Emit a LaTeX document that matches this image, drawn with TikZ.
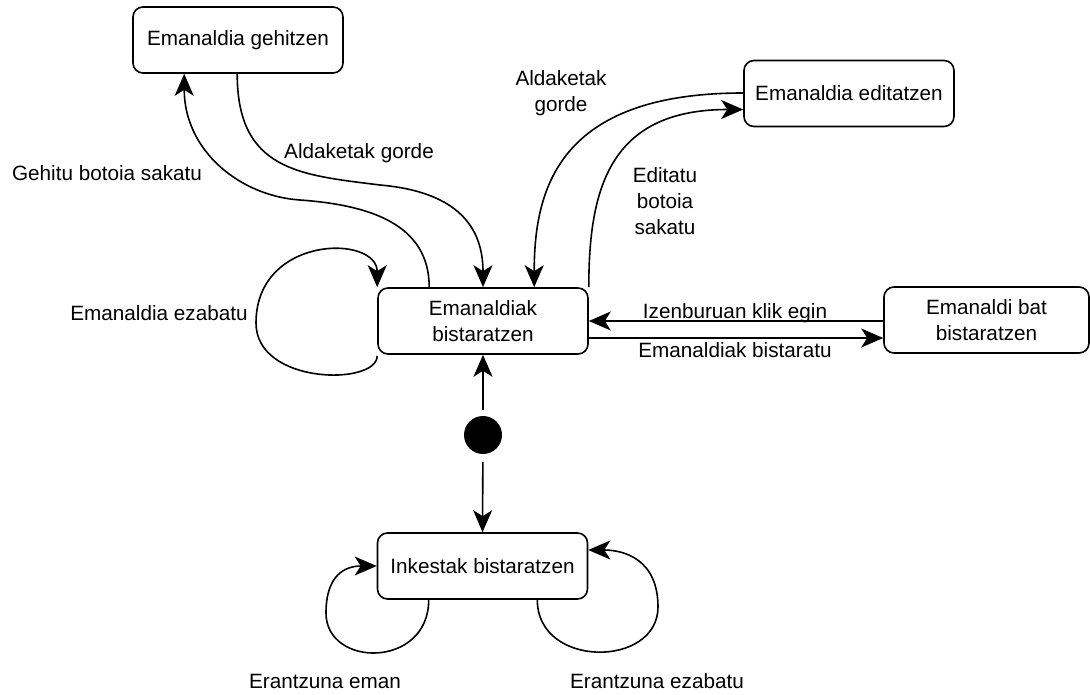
\documentclass[tikz,border=0pt]{standalone}
\usepackage{fontspec}
\setmainfont{Liberation Sans}
\usetikzlibrary{arrows.meta,calc}
\begin{document}
\begin{tikzpicture}[x=1pt,y=-1pt,
  every node/.style={font=\fontsize{20.7}{26}\selectfont},
  state/.style={draw,line width=1.6pt,rounded corners=10pt,minimum width=210pt,minimum height=66pt,align=center,inner sep=2pt},
  lbl/.style={align=center,inner sep=0pt},
  tip/.tip={Stealth[length=22pt,width=19pt,inset=6pt]},
  arr/.style={line width=1.6pt,-tip},
  ln/.style={line width=1.6pt}]
\useasboundingbox (0,0) rectangle (1090,695);
\node[state] (gehitzen) at (238,40) {Emanaldia gehitzen};
\node[state] (editatzen) at (849,93.5) {Emanaldia editatzen};
\node[state] (bistak) at (483,321) {Emanaldiak\\bistaratzen};
\node[state,minimum width=205pt] (bat) at (986.5,320) {Emanaldi bat\\bistaratzen};
\node[state] (inkestak) at (482.5,566) {Inkestak bistaratzen};
\node[circle,fill=black,minimum size=38pt,inner sep=0pt] (start) at (483,435) {};

% Gehitu botoia sakatu
\draw[arr] ($(bistak.north west)+(52,0)$) .. controls +(0,-63) and (370,205) .. (300,200) .. controls (240,196) and +(0,77) .. ($(gehitzen.south west)+(52,0)$);
% Aldaketak gorde (from gehitzen)
\draw[arr] ($(gehitzen.south west)+(105,0)$) .. controls +(0,97) and (300,175) .. (380,185) .. controls (460,192) and +(0,-58) .. (bistak.north);
% Aldaketak gorde (from editatzen)
\draw[arr] ($(editatzen.west)+(0,-0.5)$) .. controls +(-185,0) and +(0,-98) .. ($(bistak.north west)+(157,0)$);
% Editatu botoia sakatu
\draw[arr] (bistak.north east) .. controls +(0,-98) and +(-134,0) .. ($(editatzen.west)+(0,16)$);
% Emanaldia ezabatu self loop
\draw[arr] ($(bistak.south west)+(0,1)$) .. controls +(0,30) and (256,385) .. (256,323) .. controls (256,235) and +(0,-53) .. (bistak.north west);
% horizontal
\draw[arr] (bat.west |- bistak.east) -- (bistak.east);
\coordinate (lowL) at ($(bistak.east)+(0,17)$);
\draw[arr] (lowL) -- (bat.west |- lowL);
% start
\draw[arr,shorten <=6pt] (start) -- (bistak.south);
\draw[arr,shorten <=8pt] (start) -- (inkestak.north);
% Inkestak loops
\draw[arr] ($(inkestak.south west)+(52,0)$) .. controls +(0,69) and (326,668) .. (326,613) .. controls (326,575) and (345,566) .. (inkestak.west);
\draw[arr] ($(inkestak.south east)+(-51,0)$) .. controls +(0,69) and (658,668) .. (658,607) .. controls (658,560) and (625,550) .. ($(inkestak.east)+(0,-16)$);

% labels
\node[lbl] (l1) at (107,173) {Gehitu botoia sakatu};
\node[lbl] (l2) at (359,153) {Aldaketak gorde};
\node[lbl] (l3) at (561,93) {Aldaketak\\gorde};
\node[lbl] (l4) at (665,201) {Editatu\\botoia\\sakatu};
\node[lbl] (l5) at (159,313) {Emanaldia ezabatu};
\node[lbl] (l6) at (735,313) {Izenburuan klik egin};
\node[lbl] (l7) at (735,350) {Emanaldiak bistaratu};
\node[lbl] (l8) at (325,681) {Erantzuna eman};
\node[lbl] (l9) at (657,681) {Erantzuna ezabatu};
\end{tikzpicture}
\end{document}
